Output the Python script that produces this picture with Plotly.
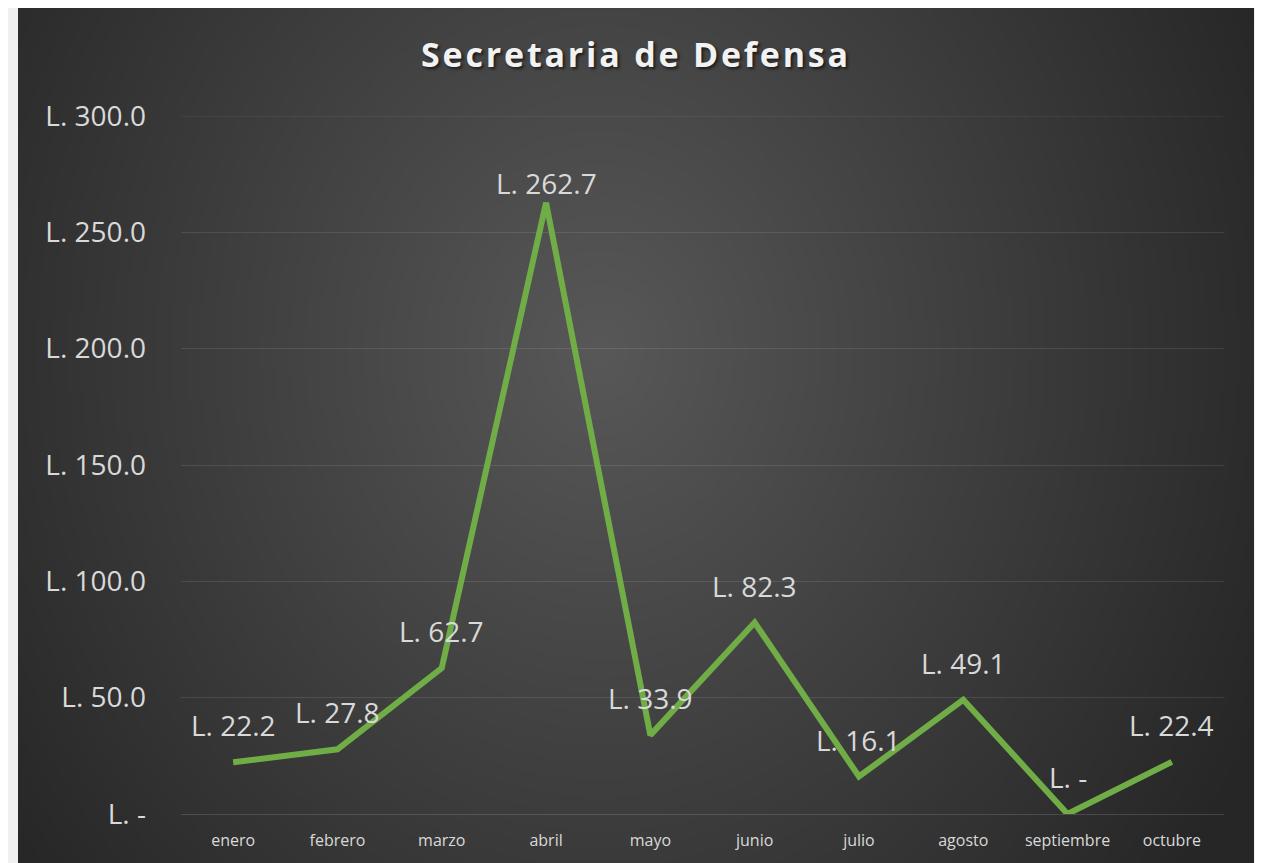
import base64, struct, zlib
import numpy as np
import plotly.graph_objects as go

# ---- data ----
months = ["enero", "febrero", "marzo", "abril", "mayo", "junio",
          "julio", "agosto", "septiembre", "octubre"]
values = [22.2, 27.8, 62.7, 262.7, 33.9, 82.3, 16.1, 49.1, 0.0, 22.4]
y_ticks = [0, 50, 100, 150, 200, 250, 300]
title_text = "Secretaria de Defensa"


def lempira(v):
    return "L. -" if v == 0 else f"L. {v:.1f}"


# ---- style ----
W, H = 1255, 855           # page has an 8px body margin
ML, MR, MT, MB = 173, 39, 108, 47
PW, PH = W - ML - MR, H - MT - MB
BOX = dict(left=10, right=1246, top=-2, bottom=860)  # dark chart area in figure px
LINE_COLOR = "#70AD47"
TEXT_COLOR = "#d9d9d9"
GRID_COLOR = "rgba(255,255,255,0.10)"
FONT = "Open Sans"
LABEL_SHIFT = 37
LABEL_SHIFT_OVERRIDE = {"abril": 20}


def radial_png(w, h):
    yy, xx = np.mgrid[0:h, 0:w]
    cx, cy = 0.47 * w, 0.40 * h
    rx, ry = 0.60 * w, 1.0 * h
    d = np.sqrt(((xx - cx) / rx) ** 2 + ((yy - cy) / ry) ** 2)
    f = np.clip(1 - d, 0, 1)
    edge, center = 38.0, 88.0
    v = (edge + (center - edge) * f).astype(np.uint8)
    arr = np.stack([v, v, v], axis=-1)
    raw = b"".join(b"\x00" + arr[i].tobytes() for i in range(h))

    def chunk(t, data):
        c = struct.pack(">I", len(data)) + t + data
        return c + struct.pack(">I", zlib.crc32(t + data) & 0xFFFFFFFF)

    png = (b"\x89PNG\r\n\x1a\n"
           + chunk(b"IHDR", struct.pack(">IIBBBBB", w, h, 8, 2, 0, 0, 0))
           + chunk(b"IDAT", zlib.compress(raw, 9))
           + chunk(b"IEND", b""))
    return "data:image/png;base64," + base64.b64encode(png).decode()


bx0 = (BOX["left"] - ML) / PW
bx1 = (BOX["right"] - ML) / PW
by1 = (MT + PH - BOX["top"]) / PH
by0 = (MT + PH - BOX["bottom"]) / PH

fig = go.Figure()
fig.add_trace(go.Scatter(
    x=months, y=values, mode="lines",
    line=dict(color=LINE_COLOR, width=6),
    hoverinfo="skip", showlegend=False,
))

annotations = []
for m, v in zip(months, values):
    annotations.append(dict(
        x=m, y=v, xref="x", yref="y", text=lempira(v), showarrow=False,
        yshift=LABEL_SHIFT_OVERRIDE.get(m, LABEL_SHIFT),
        font=dict(family=FONT, size=28, color=TEXT_COLOR),
    ))

fig.update_layout(
    width=W, height=H,
    margin=dict(l=ML, r=MR, t=MT, b=MB),
    paper_bgcolor="#f0f0f0",
    plot_bgcolor="rgba(0,0,0,0)",
    images=[dict(source=radial_png(412, 286), xref="paper", yref="paper",
                 x=bx0, y=by1, sizex=bx1 - bx0, sizey=by1 - by0,
                 xanchor="left", yanchor="top", sizing="stretch",
                 layer="below")],
    shapes=[dict(type="line", xref="paper", yref="y", x0=0, x1=1,
                 y0=y_ticks[-1], y1=y_ticks[-1], layer="below",
                 line=dict(color=GRID_COLOR, width=1))],
    title=dict(text=f'<span style="letter-spacing:2.8px"><b>{title_text}</b></span>',
               x=628 / W, xanchor="center",
               y=1 - 47 / H, yanchor="middle", xref="container", yref="container",
               font=dict(family=FONT, size=34, color="#f2f2f2",
                         shadow="2px 2px 3px rgba(0,0,0,0.6)")),
    xaxis=dict(type="category", range=[-0.5, len(months) - 0.5],
               showgrid=False, zeroline=False, showline=True,
               linecolor="rgba(255,255,255,0.14)", linewidth=1,
               ticks="", ticklabelstandoff=12,
               tickfont=dict(family=FONT, size=16, color=TEXT_COLOR)),
    yaxis=dict(range=[0, 300], tickvals=y_ticks,
               ticktext=[lempira(v) for v in y_ticks],
               showgrid=True, gridcolor=GRID_COLOR, gridwidth=1,
               zeroline=False, showline=False, ticks="", ticklabelstandoff=34,
               tickfont=dict(family=FONT, size=28, color=TEXT_COLOR)),
    annotations=annotations,
    font=dict(family=FONT),
)

fig.write_html("out.html")
